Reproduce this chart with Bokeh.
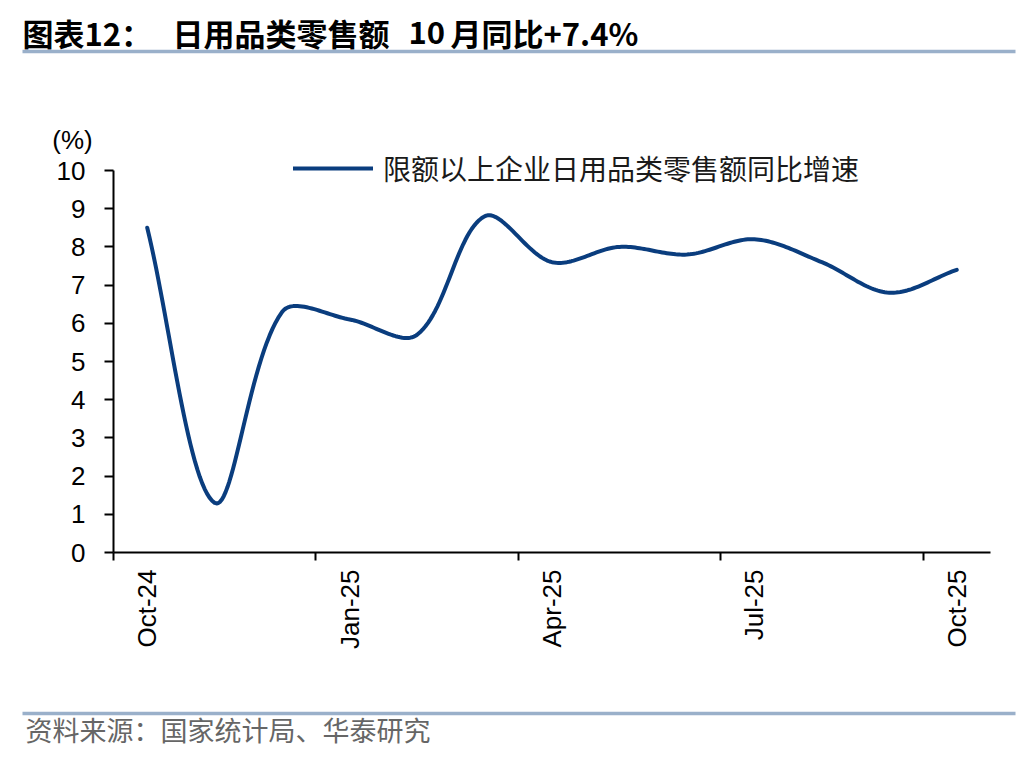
import numpy as np
from bokeh.plotting import figure
from bokeh.models import (Range1d, FixedTicker, LinearAxis, Label, Arrow,
                          Legend, LegendItem, ColumnDataSource)
from bokeh.embed import file_html
from bokeh.resources import INLINE

# ---------------- data ----------------
months = ["Oct-24", "Nov-24", "Dec-24", "Jan-25", "Feb-25", "Mar-25", "Apr-25",
          "May-25", "Jun-25", "Jul-25", "Aug-25", "Sep-25", "Oct-25"]
growth = [8.5, 1.3, 6.3, 6.1, 5.7, 8.8, 7.6, 8.0, 7.8, 8.2, 7.6, 6.8, 7.4]
tick_labels = ["Oct-24", "Jan-25", "Apr-25", "Jul-25", "Oct-25"]
y_ticks = list(range(0, 11))
series_name = "限额以上企业日用品类零售额同比增速"
title_parts = ["图表12：", "日用品类零售额", "10", "月同比+7.4%"]
source_text = "资料来源：国家统计局、华泰研究"

# ---------------- layout (pixels) ----------------
W, H = 1020, 748
AX_L, AX_R, AX_T, AX_B = 113, 990, 170, 552     # plot area inside the canvas
x_first, x_last = -0.5, len(months) - 0.5
y_first, y_last = 0, 10
sx = (AX_R - AX_L) / (x_last - x_first)   # px per x unit
sy = (AX_B - AX_T) / (y_last - y_first)   # px per y unit
x_lo = x_first - AX_L / sx
x_hi = x_lo + W / sx
y_hi = y_last + AX_T / sy
y_lo = y_hi - H / sy

LINE_COLOR = "#0A3D7E"
RULE_COLOR = "#9AB0CA"
CJK = "Noto Sans CJK SC"
LAT = "Liberation Sans"


def smooth_path(xs, ys, tension=1 / 3, n=30):
    """Smoothed (spline) rendering of the series, computed in screen space."""
    P = np.column_stack([np.asarray(xs, float) * sx, np.asarray(ys, float) * sy])
    N = len(P)
    cb = np.zeros_like(P)
    ca = np.zeros_like(P)
    for i in range(N):
        prev = P[max(i - 1, 0)]
        nxt = P[min(i + 1, N - 1)]
        d01 = np.hypot(*(P[i] - prev))
        d12 = np.hypot(*(nxt - P[i]))
        tot = d01 + d12 if d01 + d12 > 0 else 1.0
        cb[i] = P[i] - tension * d01 / tot * (nxt - prev)
        ca[i] = P[i] + tension * d12 / tot * (nxt - prev)
    t = np.linspace(0, 1, n, endpoint=False)[:, None]
    pts = []
    for i in range(N - 1):
        p0, p1, p2, p3 = P[i], ca[i], cb[i + 1], P[i + 1]
        pts.append(((1 - t) ** 3) * p0 + 3 * ((1 - t) ** 2) * t * p1
                   + 3 * (1 - t) * t ** 2 * p2 + t ** 3 * p3)
    pts.append(P[-1][None, :])
    pts = np.vstack(pts)
    return pts[:, 0] / sx, pts[:, 1] / sy


xs = list(range(len(months)))
cx, cy = smooth_path(xs, growth)
src = ColumnDataSource(dict(x=cx, y=cy))

p = figure(width=W, height=H, x_range=Range1d(x_lo, x_hi), y_range=Range1d(y_lo, y_hi),
           output_backend="svg", toolbar_location=None, title=None,
           min_border=0, min_border_left=0, min_border_right=0,
           min_border_top=0, min_border_bottom=0)
p.outline_line_color = None
p.xgrid.grid_line_color = None
p.ygrid.grid_line_color = None
p.background_fill_color = "white"
p.border_fill_color = "white"

r = p.line("x", "y", source=src, line_color=LINE_COLOR, line_width=4,
           line_cap="round", line_join="round")

# y axis
ya = p.yaxis[0]
ya.fixed_location = x_first
ya.bounds = (y_first, y_last)
ya.ticker = FixedTicker(ticks=y_ticks)
ya.axis_line_width = 2
ya.axis_line_color = "black"
ya.major_tick_line_width = 2
ya.major_tick_out = 9
ya.major_tick_in = 0
ya.minor_tick_line_color = None
ya.major_label_standoff = 19
ya.major_label_text_font = LAT
ya.major_label_text_font_size = "26px"
ya.major_label_text_color = "black"

# x axis: tick marks at quarter boundaries
label_pos = [months.index(l) for l in tick_labels]
xa = p.xaxis[0]
xa.fixed_location = y_first
xa.bounds = (x_first, x_last)
xa.ticker = FixedTicker(ticks=[i - 0.5 for i in label_pos])
xa.axis_line_width = 2
xa.axis_line_color = "black"
xa.major_tick_line_width = 2
xa.major_tick_out = 8
xa.major_tick_in = 0
xa.minor_tick_line_color = None
xa.major_label_text_color = None
xa.major_label_text_font_size = "1px"
xa.major_label_standoff = 0

# x axis: month labels centred on categories
la = LinearAxis(ticker=FixedTicker(ticks=label_pos),
                major_label_overrides={pos: lab for pos, lab in zip(label_pos, tick_labels)})
la.fixed_location = y_first
la.axis_line_color = None
la.major_tick_line_color = None
la.minor_tick_line_color = None
la.major_tick_out = 0
la.major_tick_in = 0
la.major_label_orientation = np.pi / 2
la.major_label_standoff = 17
la.major_label_text_font = LAT
la.major_label_text_font_size = "26px"
la.major_label_text_color = "black"
p.add_layout(la, "below")

# legend
legend = Legend(items=[LegendItem(label=series_name, renderers=[r])],
                location=(293, 560), orientation="horizontal",
                border_line_color=None, background_fill_alpha=0,
                padding=0, margin=0, glyph_width=80, glyph_height=28,
                label_standoff=10, label_height=28,
                label_text_font=CJK, label_text_font_size="28px",
                label_text_color="#1a1a1a")
p.add_layout(legend)

# unit label
p.add_layout(Label(x=72, y=H - 139, x_units="screen", y_units="screen", text="(%)",
                   text_font=LAT, text_font_size="26px", text_align="center",
                   text_baseline="middle", text_color="black"))

# title pieces
title_x = [22, 172, 408, 450]
for tx, tt in zip(title_x, title_parts):
    p.add_layout(Label(x=tx, y=H - 31.5, x_units="screen", y_units="screen", text=tt,
                       text_font=CJK, text_font_size="31px", text_font_style="bold",
                       text_align="left", text_baseline="middle", text_color="black"))

# rules
for yy in (51, 713):
    p.add_layout(Arrow(x_start=22, x_end=1015, y_start=H - yy, y_end=H - yy,
                       start_units="screen", end_units="screen", start=None, end=None,
                       line_color=RULE_COLOR, line_width=3.5))

# source
p.add_layout(Label(x=25, y=H - 729, x_units="screen", y_units="screen", text=source_text,
                   text_font=CJK, text_font_size="27px", text_align="left",
                   text_baseline="middle", text_color="#666666"))

open("out.html", "w").write(file_html(p, INLINE))
